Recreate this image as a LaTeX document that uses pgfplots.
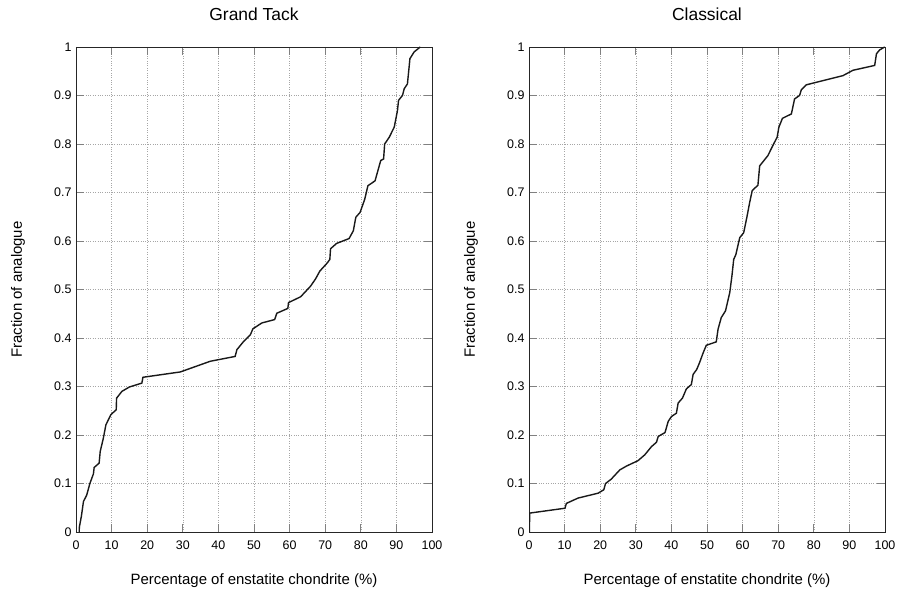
\documentclass[border=0pt]{standalone}
\usepackage{pgfplots}
\pgfplotsset{compat=1.18}
\usepackage{fontspec}
\setmainfont{Liberation Sans}

\pgfplotstableread{
x y
0.9 0.0
0.94 0.01
1.5 0.032
2.1 0.063
3.0 0.076
3.9 0.10
4.9 0.12
5.1 0.133
6.5 0.142
6.8 0.166
7.7 0.194
8.4 0.221
9.8 0.242
11.3 0.252
11.4 0.276
12.9 0.29
15.0 0.299
18.5 0.307
18.8 0.319
29.3 0.33
37.7 0.352
44.7 0.362
45.2 0.376
47.1 0.393
49.0 0.407
49.7 0.419
52.2 0.431
55.8 0.438
56.4 0.451
59.5 0.461
59.7 0.473
63.1 0.485
65.9 0.507
67.3 0.522
68.5 0.538
70.6 0.555
71.3 0.562
71.5 0.584
73.2 0.595
76.7 0.605
77.9 0.621
78.6 0.649
79.8 0.659
81.1 0.686
82.0 0.714
84.0 0.724
85.6 0.766
86.4 0.769
86.7 0.80
88.0 0.814
89.4 0.835
90.3 0.869
90.6 0.89
91.7 0.90
92.2 0.914
93.1 0.924
93.8 0.976
95.0 0.99
96.7 1.0
}\grandtack

\pgfplotstableread{
x y
0.1 0.0
0.2 0.039
10.1 0.049
10.5 0.059
13.8 0.07
19.4 0.08
21.0 0.087
21.5 0.10
23.1 0.109
25.5 0.128
27.4 0.136
30.6 0.147
32.5 0.159
34.4 0.176
35.8 0.185
36.3 0.197
38.2 0.205
39.1 0.228
40.0 0.238
41.4 0.245
41.9 0.266
43.1 0.276
44.2 0.295
45.6 0.304
46.1 0.325
47.1 0.335
47.9 0.349
48.9 0.369
49.8 0.385
52.6 0.392
53.1 0.418
54.0 0.442
55.2 0.456
56.4 0.494
57.0 0.528
57.5 0.562
58.1 0.572
59.2 0.607
60.3 0.617
61.2 0.649
62.0 0.68
62.7 0.704
64.3 0.715
64.8 0.755
67.1 0.776
68.5 0.797
69.7 0.814
70.2 0.835
71.2 0.853
73.7 0.862
74.6 0.893
76.0 0.90
76.5 0.912
77.9 0.922
88.2 0.941
91.0 0.952
97.1 0.962
97.6 0.986
98.5 0.994
99.9 1.0
}\classical

\pgfplotsset{
  cdfstyle/.style={
    scale only axis,
    width=356bp, height=485bp,
    xmin=0, xmax=100, ymin=0, ymax=1,
    xtick={0,10,...,100},
    ytick={0,0.1,...,1},
    yticklabels={0,0.1,0.2,0.3,0.4,0.5,0.6,0.7,0.8,0.9,1},
    tick align=inside,
    major tick length=8bp,
    major tick style={gray, line width=0.9bp},
    axis line style={black!85, line width=0.8bp},
    grid=major,
    major grid style={gray!70, dotted, line width=0.6bp},
    tick label style={font=\fontsize{12.5}{14}\selectfont},
    /pgf/number format/assume math mode=true,
    xticklabel style={yshift=-5bp},
    yticklabel style={xshift=-1bp},
    label style={font=\fontsize{15}{17}\selectfont},
    xlabel={Percentage of enstatite chondrite (\%)},
    ylabel={Fraction of analogue},
    xlabel style={at={(axis description cs:0.5,-0.101)}, anchor=center},
    ylabel style={at={(axis description cs:-0.163,0.5)}, anchor=center},
    title style={at={(axis description cs:0.5,1.056)}, anchor=center,
      font=\fontsize{17.5}{19}\selectfont},
  }
}

\begin{document}
\begin{tikzpicture}
\path (-76bp,-60bp) rectangle (823bp,532bp);
\begin{axis}[cdfstyle, title={Grand Tack}, at={(0,0)}]
\addplot[black!90, line width=1.4bp] table[x=x, y=y] {\grandtack};
\end{axis}
\begin{axis}[cdfstyle, title={Classical}, at={(453bp,0)}]
\addplot[black!90, line width=1.4bp] table[x=x, y=y] {\classical};
\end{axis}
\end{tikzpicture}
\end{document}
